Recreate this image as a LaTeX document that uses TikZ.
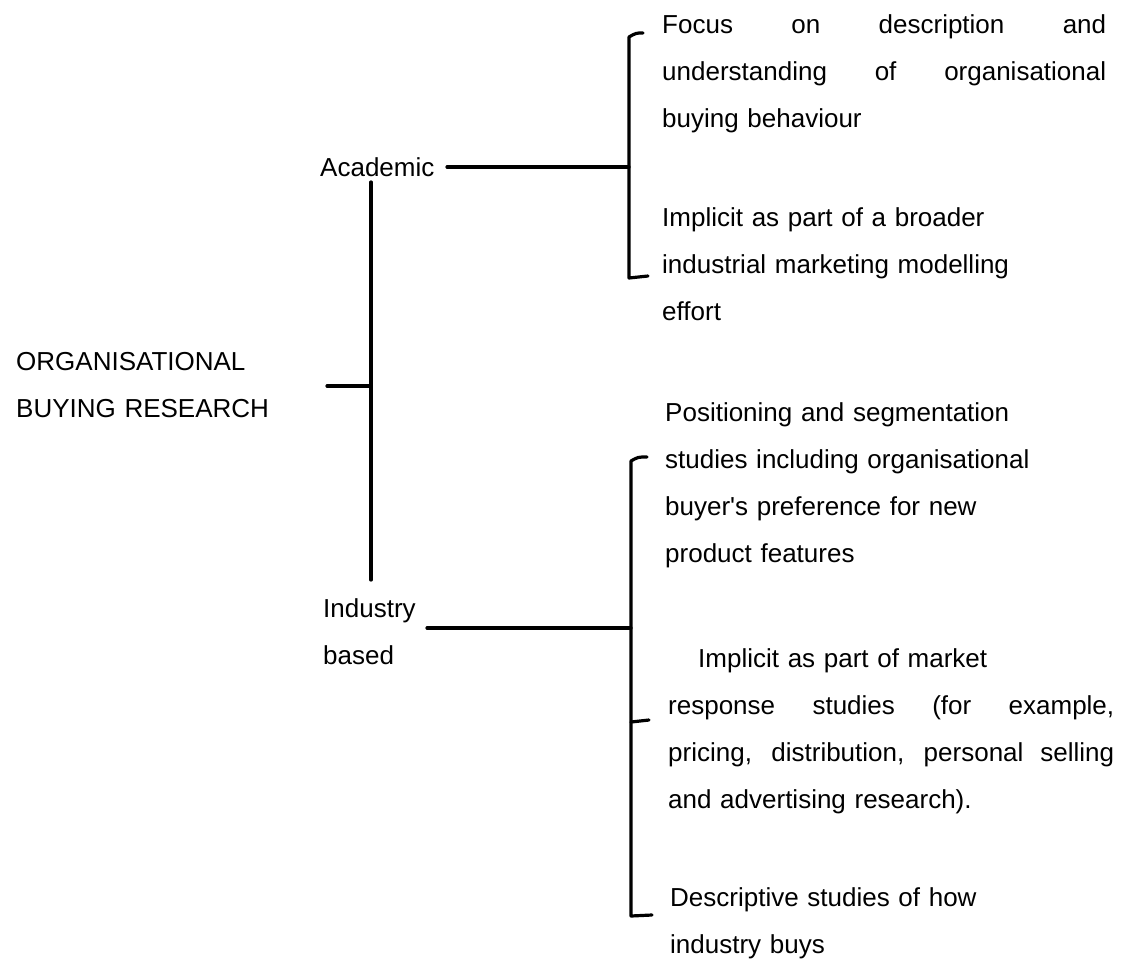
\documentclass[tikz,border=0pt]{standalone}
\usepackage{fontspec}
\setmainfont{Liberation Sans}
\usetikzlibrary{positioning}

% justified line of a given width
\newcommand{\fillline}[2]{\leavevmode\hbox to #1{\spaceskip=0.28em plus 1fil\relax #2}}

\tikzset{
  txt/.style={font=\fontsize{26}{47}\selectfont, inner sep=0pt, anchor=base west, align=left, text width=#1},
  txt/.default=446pt,
  link/.style={line width=3.2pt, line cap=round, line join=round},
}

\begin{document}
\begin{tikzpicture}[x=1pt,y=-1pt]
\useasboundingbox (0,0) rectangle (1129,961);

% left column
\node[txt=270pt] (root) at (16,370) {ORGANISATIONAL\\BUYING RESEARCH};
\node[txt=120pt] (acad) at (320,176) {Academic};
\node[txt=100pt] (indus) at (323,617) {Industry\\based};

% right column
\node[txt=446pt] (focus) at (662,33)
  {\fillline{444pt}{Focus on description and}\\
   \fillline{444pt}{understanding of organisational}\\
   buying behaviour};
\node[txt] (broader) at (662,226)
  {Implicit as part of a broader\\industrial marketing modelling\\effort};
\node[txt] (posit) at (665,421)
  {Positioning and segmentation\\studies including organisational\\buyer\textquotesingle s preference for new\\product features};
\node[txt] (market) at (668,667)
  {\hspace*{30pt}Implicit as part of market\\
   \fillline{446pt}{response studies (for example,}\\
   \fillline{446pt}{pricing, distribution, personal selling}\\
   and advertising research).};
\node[txt] (descr) at (670,906) {Descriptive studies of how\\industry buys};

% trunk
\coordinate (trunk top) at (371,182);
\coordinate (trunk bot) at (371,580);
\coordinate (stub) at (327,386);
\draw[link] (trunk top) -- (trunk bot);
\draw[link] (stub) -- (stub -| trunk top);

% upper bracket
\coordinate (brA top) at (629,37);
\coordinate (brA mid) at (629,167);
\coordinate (brA bot) at (629,278);
\draw[link] (643,33) .. controls (636,33) .. (brA top) -- (brA bot) -- (648,276);
\draw[link] (447,167) -- (brA mid);

% lower bracket
\coordinate (brB top) at (631,461);
\coordinate (brB mid) at (631,628);
\coordinate (brB bot) at (631,916);
\coordinate (indus link) at (427,628);
\draw[link] (647,457) .. controls (638,457) .. (brB top) -- (brB bot) -- (652,915);
\draw[link] (brB top |- 0,722) -- (649,720);
\draw[link] (indus link) -- (brB mid);
\end{tikzpicture}
\end{document}
